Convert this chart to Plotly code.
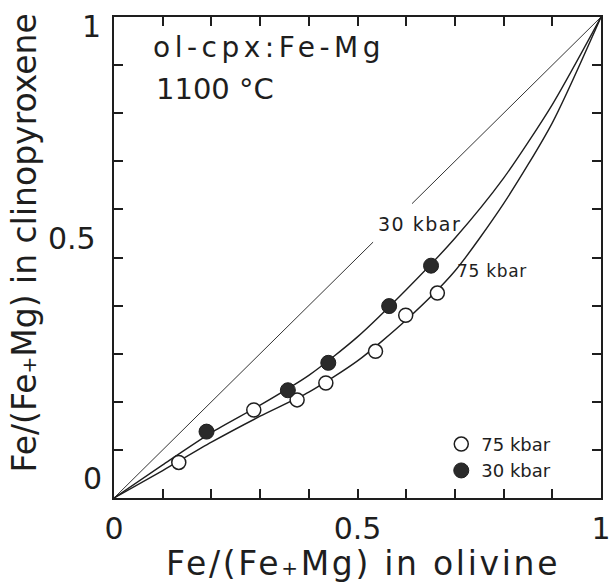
import plotly.graph_objects as go

# ---- data ----
ol_75 = [0.133, 0.287, 0.376, 0.435, 0.537, 0.599, 0.664]
cpx_75 = [0.074, 0.183, 0.204, 0.239, 0.305, 0.380, 0.426]
ol_30 = [0.190, 0.357, 0.440, 0.565, 0.651]
cpx_30 = [0.138, 0.224, 0.281, 0.399, 0.483]

curve_x = [0, 0.1, 0.2, 0.3, 0.4, 0.5, 0.6, 0.7, 0.8, 0.9, 1.0]
curve_30 = [0, 0.069, 0.136, 0.193, 0.255, 0.335, 0.433, 0.540, 0.665, 0.818, 1.0]
curve_75 = [0, 0.057, 0.116, 0.170, 0.220, 0.285, 0.370, 0.472, 0.612, 0.780, 1.0]

diag_x = [0, 0.532, None, 0.612, 1]
diag_y = [0, 0.532, None, 0.612, 1]

tick_vals = [0, 0.1, 0.2, 0.3, 0.4, 0.5, 0.6, 0.7, 0.8, 0.9, 1.0]
tick_text = ["0", "", "", "", "", "0.5", "", "", "", "", "1"]

FONT = "DejaVu Sans"
INK = "#1e1e1e"

fig = go.Figure()
fig.add_trace(go.Scatter(x=diag_x, y=diag_y, mode="lines", connectgaps=False,
                         line=dict(color="#333333", width=1), showlegend=False, hoverinfo="skip"))
fig.add_trace(go.Scatter(x=curve_x, y=curve_30, mode="lines",
                         line=dict(color=INK, width=1.4, shape="spline", smoothing=0.7),
                         showlegend=False, hoverinfo="skip"))
fig.add_trace(go.Scatter(x=curve_x, y=curve_75, mode="lines",
                         line=dict(color=INK, width=1.4, shape="spline", smoothing=0.7),
                         showlegend=False, hoverinfo="skip"))
fig.add_trace(go.Scatter(x=ol_75, y=cpx_75, mode="markers", name="75 kbar",
                         marker=dict(symbol="circle", size=14, color="white",
                                     line=dict(color=INK, width=1.5))))
fig.add_trace(go.Scatter(x=ol_30, y=cpx_30, mode="markers", name="30 kbar",
                         marker=dict(symbol="circle", size=15, color="#2a2a2a",
                                     line=dict(color=INK, width=1))))

axis_common = dict(
    range=[0, 1], showgrid=False, zeroline=False, automargin=False,
    showline=True, linecolor=INK, linewidth=2, mirror="ticks",
    ticks="inside", ticklen=9, tickwidth=1.5, tickcolor=INK,
    tickmode="array", tickvals=tick_vals, ticktext=tick_text,
)

fig.update_layout(
    width=611, height=582,
    margin=dict(l=114, r=10, t=17, b=84),
    paper_bgcolor="white", plot_bgcolor="white",
    font=dict(family=FONT, color=INK),
    xaxis=dict(**axis_common, tickfont=dict(size=30, family=FONT, color=INK),
               ticklabelstandoff=3),
    yaxis=dict(**axis_common, showticklabels=False),
    legend=dict(x=0.672, y=0.15, xanchor="left", yanchor="top",
                bgcolor="rgba(0,0,0,0)", font=dict(size=18, family=FONT, color=INK),
                traceorder="normal"),
)

annotations = [
    dict(text="<span style='letter-spacing:4.5px'>ol-cpx:Fe-Mg</span>",
         xref="paper", yref="paper", x=0.076, y=0.9375,
         xanchor="left", yanchor="middle", showarrow=False, font=dict(size=28)),
    dict(text="1100 °C", xref="paper", yref="paper", x=0.082, y=0.851,
         xanchor="left", yanchor="middle", showarrow=False, font=dict(size=29)),
    dict(text="<span style='letter-spacing:1.5px'>30 kbar</span>", xref="x", yref="y",
         x=0.627, y=0.569, xanchor="center", yanchor="middle",
         showarrow=False, font=dict(size=19)),
    dict(text="<span style='letter-spacing:0.7px'>75 kbar</span>", xref="x", yref="y",
         x=0.777, y=0.471, xanchor="center", yanchor="middle",
         showarrow=False, font=dict(size=17)),
    dict(text="<span style='letter-spacing:2.7px'>Fe/(Fe<span style='font-size:20px'>+</span>Mg) in olivine</span>",
         xref="paper", yref="paper", x=0.511, y=0, yshift=-65,
         xanchor="center", yanchor="middle", showarrow=False, font=dict(size=33)),
    dict(text="Fe/(Fe<span style='font-size:20px'>+</span>Mg) in clinopyroxene",
         xref="paper", yref="paper", x=0, y=0.5, xshift=-90, yshift=14,
         xanchor="center", yanchor="middle",
         textangle=-90, showarrow=False, font=dict(size=33)),
]
ylab_shift = {"1": (-23, -9), "0.5": (-42, 19), "0": (-22, 20)}
for v, t in zip(tick_vals, tick_text):
    if not t:
        continue
    dx, dy = ylab_shift[t]
    annotations.append(dict(text=t, xref="paper", yref="y", x=0, y=v,
                            xshift=dx, yshift=dy, xanchor="center", yanchor="middle",
                            showarrow=False, font=dict(size=30)))
fig.update_layout(annotations=annotations)

fig.write_html("out.html", config={"displayModeBar": False},
               post_script="document.body.style.margin='0px';document.body.style.overflow='hidden';")
